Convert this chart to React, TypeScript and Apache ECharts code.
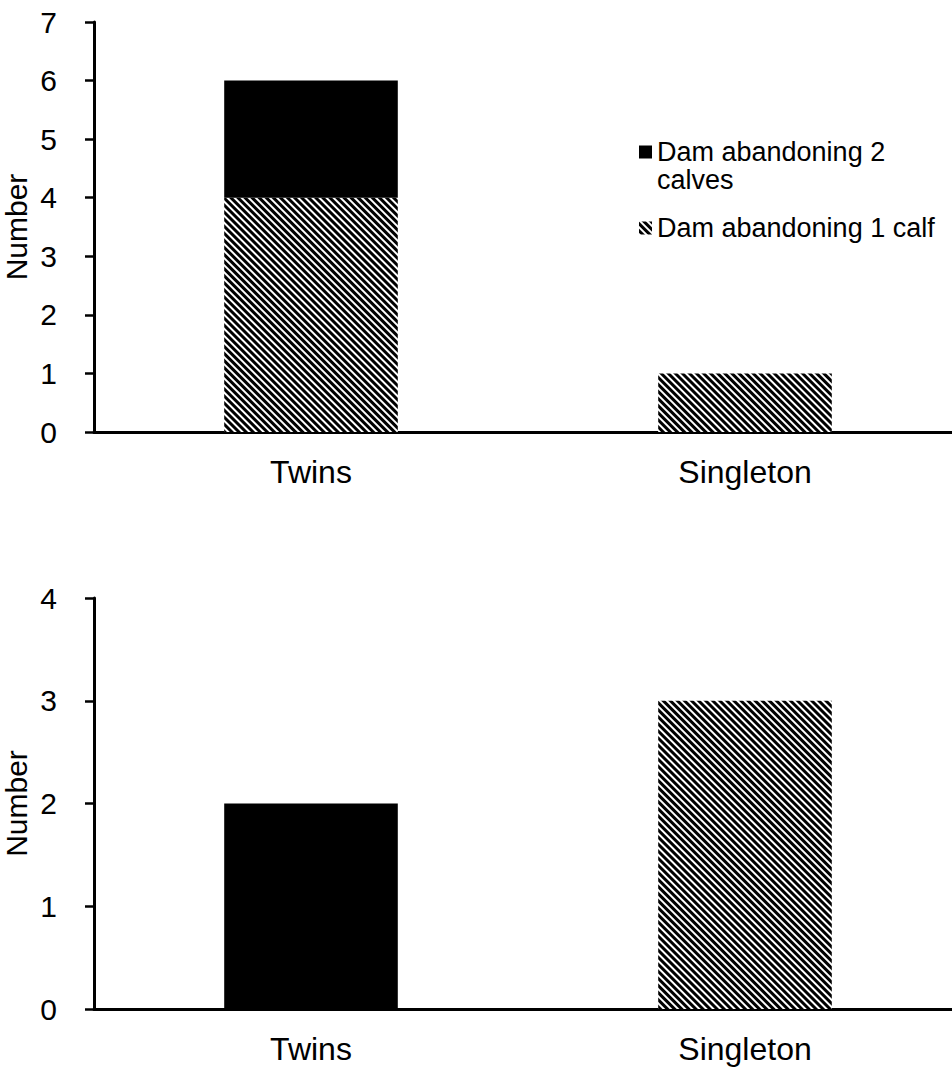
import React, { useEffect, useRef } from "react";
import * as echarts from "echarts";

const categories = ["Twins", "Singleton"];
const topOneCalf = [4, 1];
const topTwoCalves = [2, 0];
const bottomTwoCalves = [2, null];
const bottomOneCalf = [null, 3];
const topTicks = { min: 0, max: 7, interval: 1 };
const bottomTicks = { min: 0, max: 4, interval: 1 };
const nameTwo = "Dam abandoning 2 calves";
const nameOne = "Dam abandoning 1 calf";
const nameTwoLine1 = "Dam abandoning 2";
const nameTwoLine2 = "calves";

const FONT = "Liberation Sans, Arial, sans-serif";

export default function App() {
  const ref = useRef<HTMLDivElement>(null);
  useEffect(() => {
    document.body.style.margin = "0";
    const chart = echarts.init(ref.current!, undefined, { renderer: "svg" });
    const hatch = {
      color: "#ffffff",
      decal: {
        symbol: "rect",
        symbolSize: 1,
        color: "#000000",
        backgroundColor: "#ffffff",
        dashArrayX: [1, 0],
        dashArrayY: [2.4, 1.9],
        rotation: Math.PI / 4,
      },
    };
    const black = { color: "#000000" };
    const axisLine = { show: true, lineStyle: { color: "#000", width: 3 } };
    const yAxisCommon = {
      type: "value",
      axisLine,
      axisTick: { show: true, length: 9, lineStyle: { color: "#000", width: 2.5 } },
      splitLine: { show: false },
      axisLabel: { color: "#000", fontSize: 30, fontFamily: FONT, margin: 37 },
      name: "Number",
      nameLocation: "middle",
      nameGap: 63,
      nameMoveOverlap: false,
      nameTextStyle: { color: "#000", fontSize: 30, fontFamily: FONT },
    };
    const xAxisCommon = {
      type: "category",
      data: categories,
      axisLine,
      axisTick: { show: false },
      axisLabel: { color: "#000", fontSize: 32, fontFamily: FONT, margin: 24 },
    };
    const legendText = { color: "#000", fontSize: 27, lineHeight: 30, fontFamily: FONT };
    chart.setOption({
      animation: false,
      textStyle: { fontFamily: FONT },
      grid: [
        { left: 94, top: 22, width: 868, height: 410, containLabel: false, outerBoundsMode: "none" },
        { left: 94, top: 598, width: 868, height: 411, containLabel: false, outerBoundsMode: "none" },
      ],
      xAxis: [
        { ...xAxisCommon, gridIndex: 0 },
        { ...xAxisCommon, gridIndex: 1 },
      ],
      yAxis: [
        { ...yAxisCommon, gridIndex: 0, ...topTicks },
        { ...yAxisCommon, gridIndex: 1, ...bottomTicks },
      ],
      legend: [
        {
          data: [nameTwo],
          formatter: () => nameTwoLine1,
          left: 639,
          top: 137,
          padding: 0,
          itemWidth: 13,
          itemHeight: 13,
          icon: "rect",
          selectedMode: false,
          textStyle: legendText,
        },
        {
          data: [nameOne],
          left: 639,
          top: 213,
          padding: 0,
          itemWidth: 13,
          itemHeight: 13,
          icon: "rect",
          selectedMode: false,
          textStyle: legendText,
        },
      ],
      graphic: [
        {
          type: "text",
          left: 657,
          top: 166,
          style: { text: nameTwoLine2, fill: "#000", font: `27px ${FONT}` },
        },
      ],
      series: [
        {
          name: nameOne,
          type: "bar",
          stack: "top",
          xAxisIndex: 0,
          yAxisIndex: 0,
          barWidth: "40%",
          data: topOneCalf,
          itemStyle: hatch,
        },
        {
          name: nameTwo,
          type: "bar",
          stack: "top",
          xAxisIndex: 0,
          yAxisIndex: 0,
          barWidth: "40%",
          data: topTwoCalves,
          itemStyle: black,
        },
        {
          name: nameTwo,
          type: "bar",
          stack: "bottom",
          xAxisIndex: 1,
          yAxisIndex: 1,
          barWidth: "40%",
          data: bottomTwoCalves,
          itemStyle: black,
        },
        {
          name: nameOne,
          type: "bar",
          stack: "bottom",
          xAxisIndex: 1,
          yAxisIndex: 1,
          barWidth: "40%",
          data: bottomOneCalf,
          itemStyle: hatch,
        },
      ],
    });
    return () => chart.dispose();
  }, []);
  return <div ref={ref} style={{ width: 952, height: 1067 }} />;
}
